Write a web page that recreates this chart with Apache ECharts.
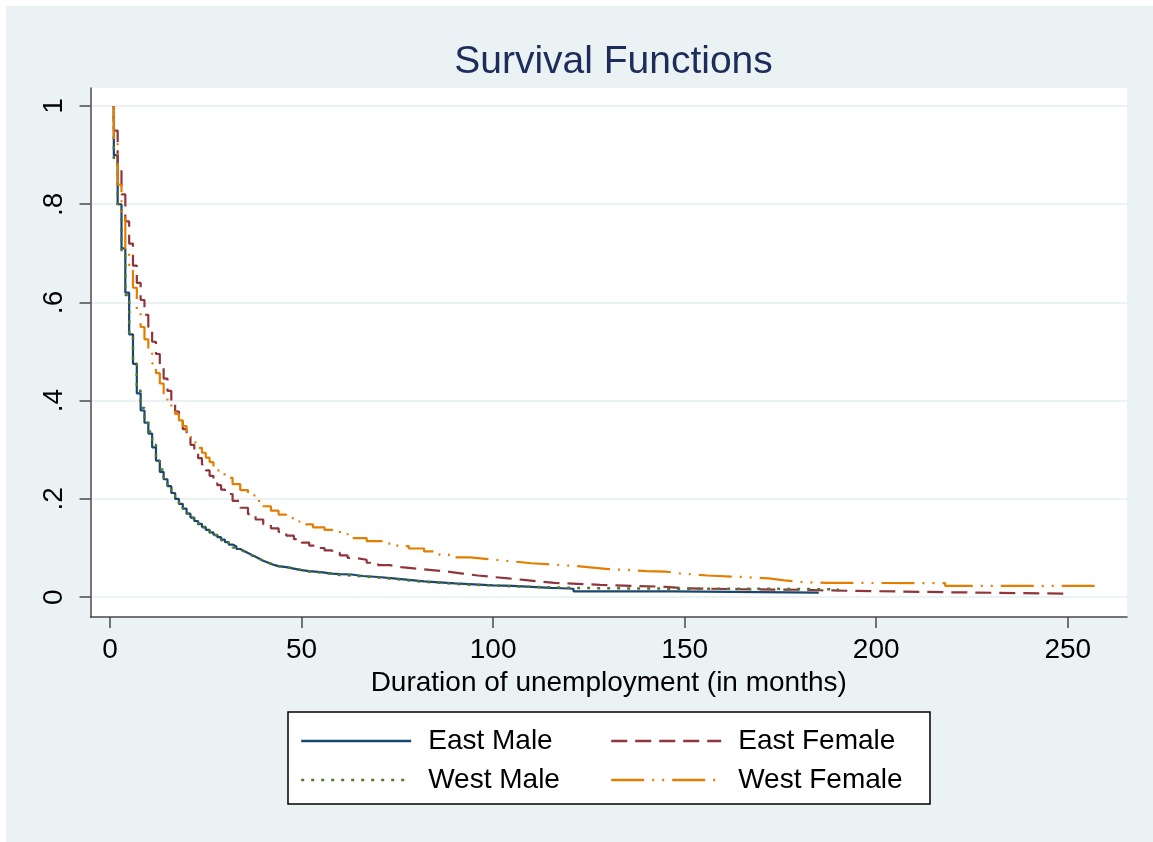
<!DOCTYPE html>
<html>
<head>
<meta charset="utf-8">
<script src="https://cdn.jsdelivr.net/npm/echarts@6/dist/echarts.min.js"></script>
<style>
html,body{margin:0;padding:0;background:#fff;}
#bg{position:absolute;left:6px;top:6px;width:1147px;height:836px;background:#EAF2F3;}
#chart{position:absolute;left:0;top:0;width:1153px;height:842px;}
</style>
</head>
<body>
<div id="bg"></div>
<div id="chart"></div>
<script>
// Kaplan-Meier survival estimates: [month, survival]
const eastMale = [[1,1],[1,.90],[2,.80],[3,.71],[4,.62],[5,.535],[6,.475],[7,.415],[8,.38],[9,.355],[10,.333],[11,.305],[12,.278],[13,.255],[14,.24],[15,.226],[16,.212],[17,.2],[18,.19],[19,.18],[20,.17],[21,.162],[22,.155],[23,.149],[24,.143],[25,.137],[26,.132],[27,.127],[28,.122],[29,.117],[30,.112],[31,.107],[32,.103],[33,.098],[34,.094],[35,.09],[36,.086],[37,.082],[38,.078],[39,.074],[40,.071],[41,.068],[42,.065],[43,.063],[44,.061],[46,.058],[48,.055],[50,.053],[52,.051],[55,.048],[58,.047],[60,.046],[63,.043],[66,.041],[70,.038],[74,.035],[78,.032],[82,.030],[86,.028],[90,.026],[95,.024],[100,.023],[105,.021],[110,.019],[115,.018],[118,.017],[121,.0115],[147,.0093],[185,.0093]];
const eastFemale = [[1,1],[1,.95],[2,.875],[3,.82],[4,.765],[5,.72],[6,.675],[7,.64],[8,.605],[9,.575],[10,.55],[11,.52],[12,.495],[13,.47],[14,.445],[15,.42],[16,.398],[17,.378],[18,.36],[19,.342],[20,.325],[21,.31],[22,.296],[23,.283],[24,.27],[25,.258],[26,.247],[27,.237],[28,.228],[29,.219],[30,.21],[32,.196],[34,.182],[36,.169],[38,.158],[40,.148],[42,.14],[44,.133],[46,.125],[48,.118],[50,.111],[52,.105],[54,.1],[56,.095],[58,.09],[60,.085],[62,.08],[64,.076],[67,.07],[70,.065],[73,.061],[76,.058],[80,.055],[84,.052],[88,.048],[92,.044],[96,.041],[100,.038],[104,.035],[108,.032],[112,.029],[116,.027],[122,.025],[128,.023],[136,.021],[145,.018],[150,.016],[165,.015],[180,.014],[185,.013],[192,.01],[218,.007],[249,.007]];
const westMale = [[1,1],[1,.89],[2,.79],[3,.70],[4,.615],[5,.535],[6,.475],[7,.42],[8,.385],[9,.36],[10,.337],[11,.31],[12,.283],[13,.26],[14,.243],[15,.228],[16,.214],[17,.201],[18,.19],[19,.18],[20,.17],[21,.161],[22,.154],[23,.148],[24,.142],[25,.136],[26,.131],[27,.126],[28,.121],[29,.116],[30,.111],[31,.106],[32,.101],[33,.097],[34,.093],[35,.089],[36,.085],[37,.081],[38,.078],[39,.074],[40,.071],[41,.068],[42,.065],[43,.063],[44,.061],[46,.058],[48,.055],[50,.052],[52,.05],[55,.047],[58,.045],[60,.044],[63,.042],[66,.04],[70,.037],[74,.034],[78,.031],[82,.029],[86,.027],[90,.025],[95,.024],[100,.022],[105,.021],[110,.02],[115,.019],[120,.018],[130,.017],[150,.017],[170,.016],[189,.016],[190,.001]];
const westFemale = [[1,1],[1,.93],[2,.84],[3,.78],[4,.71],[5,.665],[6,.63],[7,.585],[8,.55],[9,.525],[10,.5],[11,.476],[12,.456],[13,.435],[14,.415],[15,.4],[16,.386],[17,.373],[18,.36],[19,.348],[20,.337],[21,.326],[22,.315],[23,.304],[24,.294],[25,.284],[26,.275],[27,.266],[28,.258],[29,.25],[30,.243],[32,.23],[34,.218],[36,.207],[38,.196],[40,.185],[42,.176],[44,.168],[46,.161],[48,.154],[50,.148],[53,.142],[56,.137],[60,.128],[63,.12],[67,.114],[71,.109],[75,.104],[78,.099],[82,.093],[86,.086],[90,.081],[94,.078],[98,.075],[102,.072],[106,.069],[110,.067],[114,.065],[118,.063],[122,.06],[126,.057],[130,.055],[136,.053],[140,.052],[145,.048],[149,.044],[156,.041],[165,.038],[172,.034],[176,.031],[180,.029],[187,.0285],[212,.0285],[218,.023],[259,.023]];

const seriesNames = ['East Male','East Female','West Male','West Female'];
const xTicks = [0,50,100,150,200,250];
const yTicks = [0,0.2,0.4,0.6,0.8,1];
const yTickLabels = ['0','.2','.4','.6','.8','1'];

const FONT = "'Liberation Sans', Arial, sans-serif";
const chart = echarts.init(document.getElementById('chart'), null, {renderer:'canvas'});

function mkSeries(name, data, color, dash, width){
  return {
    name: name, type: 'line', data: data, step: 'end',
    showSymbol: false, symbol: 'none', animation: false, silent: true,
    lineStyle: {color: color, width: width, type: dash},
    itemStyle: {color: color}
  };
}
const legendText = {fontSize: 28, lineHeight: 30, color: '#000', fontFamily: FONT, padding: [0,0,0,12]};
const legendCommon = {
  orient: 'vertical', top: 726, padding: 0, itemWidth: 110, itemHeight: 14, itemGap: 9,
  selectedMode: false, textStyle: legendText, z: 5,
  lineStyle: {width: 2.4},
  itemStyle: {color: 'rgba(0,0,0,0)', borderColor: 'rgba(0,0,0,0)', borderWidth: 0, opacity: 0}
};

chart.setOption({
  animation: false,
  textStyle: {fontFamily: FONT},
  title: {
    text: 'Survival Functions', left: 608.5, top: 38, textAlign: 'center',
    textStyle: {fontSize: 39, fontWeight: 'normal', color: '#1c2c5b', fontFamily: FONT}
  },
  grid: {left: 90.5, top: 88, width: 1036.5, height: 529, show: true, backgroundColor: '#fff', borderWidth: 0, containLabel: false},
  xAxis: {
    type: 'value', min: -5.09, max: 265.46,
    name: 'Duration of unemployment (in months)', nameLocation: 'middle', nameGap: 47,
    nameTextStyle: {fontSize: 28, color: '#000', fontFamily: FONT},
    axisLine: {onZero: false, lineStyle: {color: '#4a4a4a', width: 1.5}},
    axisTick: {length: 11, lineStyle: {color: '#4a4a4a', width: 1.5}, customValues: xTicks},
    axisLabel: {fontSize: 28, color: '#000', margin: 19, customValues: xTicks, fontFamily: FONT},
    splitLine: {show: false}
  },
  yAxis: {
    type: 'value', min: -0.0405, max: 1.0367,
    axisLine: {show: true, onZero: false, lineStyle: {color: '#4a4a4a', width: 1.5}},
    axisTick: {show: true, length: 11, lineStyle: {color: '#4a4a4a', width: 1.5}, customValues: yTicks},
    axisLabel: {fontSize: 28, color: '#000', margin: 22, rotate: 90, customValues: yTicks, fontFamily: FONT,
      formatter: function(v){ const i = yTicks.findIndex(t => Math.abs(t - v) < 1e-9); return i >= 0 ? yTickLabels[i] : ''; }},
    splitLine: {show: true, lineStyle: {color: '#EAF2F3', width: 2}}
  },
  legend: [
    Object.assign({data: [seriesNames[0], seriesNames[2]], left: 300}, legendCommon),
    Object.assign({data: [seriesNames[1], seriesNames[3]], left: 610}, legendCommon)
  ],
  graphic: [{type: 'rect', z: 1, shape: {x: 288, y: 712, width: 642, height: 92}, style: {fill: '#fff', stroke: '#000', lineWidth: 1.5}}],
  series: [
    mkSeries(seriesNames[0], eastMale, '#1A476F', 'solid', 2.2),
    mkSeries(seriesNames[1], eastFemale, '#90353B', [16, 8], 2.2),
    mkSeries(seriesNames[2], westMale, '#55752F', [3, 7], 2.5),
    mkSeries(seriesNames[3], westFemale, '#E37E00', [33, 8, 2, 8, 2, 8], 2.2)
  ]
});
</script>
</body>
</html>
